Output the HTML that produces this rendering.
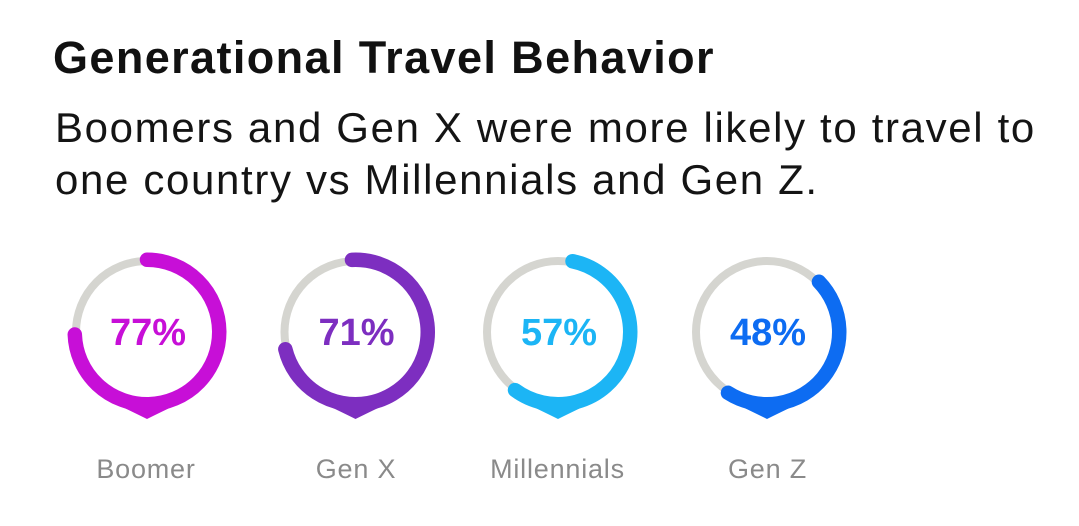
<!DOCTYPE html>
<html>
<head>
<meta charset="utf-8">
<style>
  html, body { margin: 0; padding: 0; background: #ffffff; }
  body { width: 1079px; height: 526px; overflow: hidden; }
  svg { display: block; }
  .title { font-family: "Liberation Sans", sans-serif; font-weight: bold; font-size: 45px; letter-spacing: 1.4px; fill: #111111; }
  .sub { font-family: "Liberation Sans", sans-serif; font-size: 42px; letter-spacing: 1.65px; fill: #141414; }
  .pct { font-family: "Liberation Sans", sans-serif; font-weight: bold; font-size: 38px; }
  .lab { font-family: "Liberation Sans", sans-serif; font-size: 27px; letter-spacing: 0.8px; fill: #8a8a8a; }
</style>
</head>
<body>
<svg width="1079" height="526" viewBox="0 0 1079 526" xmlns="http://www.w3.org/2000/svg">
  <rect width="1079" height="526" fill="#ffffff"/>

  <text class="title" x="53" y="73">Generational Travel Behavior</text>
  <text class="sub" x="55" y="142">Boomers and Gen X were more likely to travel to</text>
  <text class="sub" x="55" y="194">one country vs Millennials and Gen Z.</text>

  <!-- Boomer -->
  <circle cx="147" cy="332" r="71" fill="none" stroke="#d5d5d0" stroke-width="8"/>
  <path d="M147,259.75 A72.25,72.25 0 1 1 74.79,334.52" fill="none" stroke="#c70fd7" stroke-width="14.5" stroke-linecap="round"/>
  <path d="M114,403 Q135,413 147,419 Q159,413 180,403 Z" fill="#c70fd7"/>
  <text class="pct" x="148" y="345" text-anchor="middle" fill="#c70fd7">77%</text>
  <text class="lab" x="146" y="478" text-anchor="middle">Boomer</text>

  <!-- Gen X -->
  <circle cx="355.5" cy="332" r="71" fill="none" stroke="#d5d5d0" stroke-width="8"/>
  <path d="M351.97,259.84 A72.25,72.25 0 1 1 285.34,349.23" fill="none" stroke="#7d2ec0" stroke-width="14.5" stroke-linecap="round"/>
  <path d="M322.5,403 Q343.5,413 355.5,419 Q367.5,413 388.5,403 Z" fill="#7d2ec0"/>
  <text class="pct" x="356.5" y="345" text-anchor="middle" fill="#7d2ec0">71%</text>
  <text class="lab" x="356" y="478" text-anchor="middle">Gen X</text>

  <!-- Millennials -->
  <circle cx="558" cy="332" r="71" fill="none" stroke="#d5d5d0" stroke-width="8"/>
  <path d="M572.53,261.23 A72.25,72.25 0 1 1 515.02,390.08" fill="none" stroke="#1cb5f5" stroke-width="14.5" stroke-linecap="round"/>
  <path d="M525,403 Q546,413 558,419 Q570,413 591,403 Z" fill="#1cb5f5"/>
  <text class="pct" x="559" y="345" text-anchor="middle" fill="#1cb5f5">57%</text>
  <text class="lab" x="557.5" y="478" text-anchor="middle">Millennials</text>

  <!-- Gen Z -->
  <circle cx="767" cy="332" r="71" fill="none" stroke="#d5d5d0" stroke-width="8"/>
  <path d="M818.97,281.81 A72.25,72.25 0 0 1 727.97,392.80" fill="none" stroke="#0d6cf2" stroke-width="14.5" stroke-linecap="round"/>
  <path d="M734,403 Q755,413 767,419 Q779,413 800,403 Z" fill="#0d6cf2"/>
  <text class="pct" x="768" y="345" text-anchor="middle" fill="#0d6cf2">48%</text>
  <text class="lab" x="767.5" y="478" text-anchor="middle">Gen Z</text>
</svg>
</body>
</html>
